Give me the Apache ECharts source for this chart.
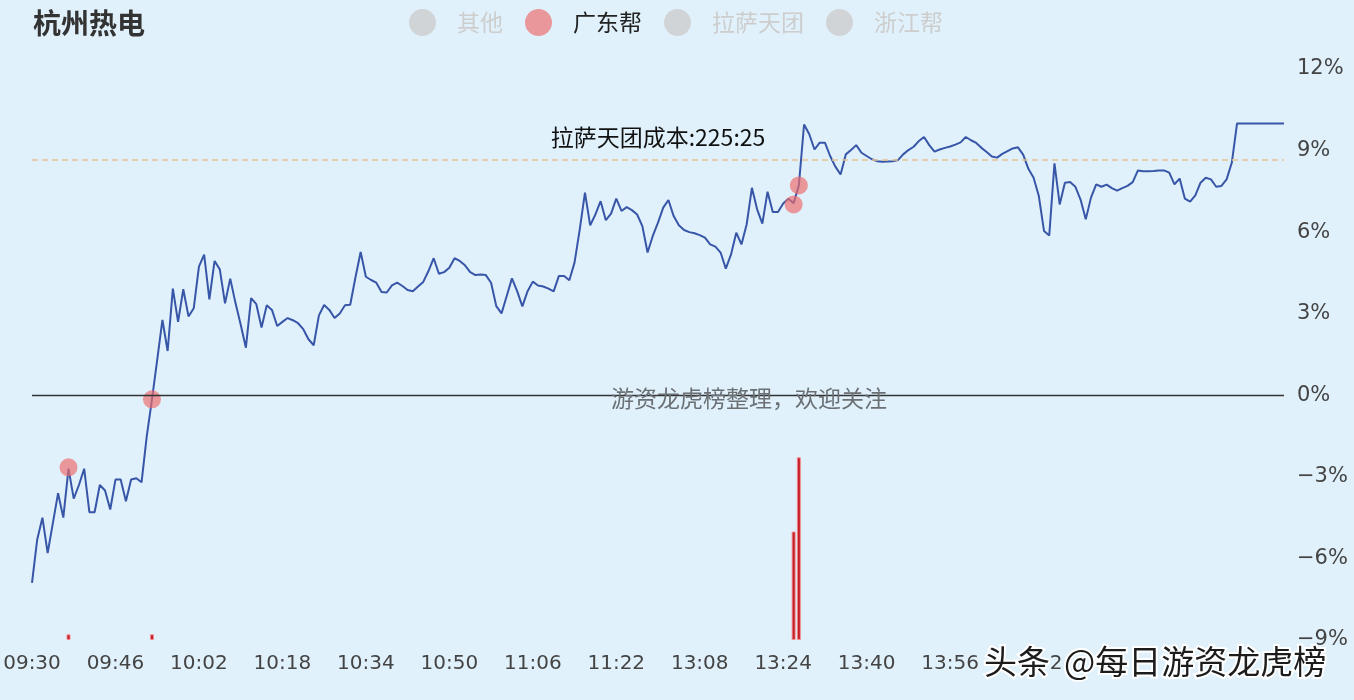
<!DOCTYPE html>
<html>
<head>
<meta charset="utf-8">
<title>杭州热电</title>
<script src="https://cdn.jsdelivr.net/npm/echarts@6/dist/echarts.min.js"></script>
<style>
  html, body { margin: 0; padding: 0; background: #e0f1fb; }
  #chart { width: 1354px; height: 700px; }
</style>
</head>
<body>
<div id="chart"></div>
<script>
// 分时涨幅 (%)，每分钟一个点，09:30-11:30 / 13:01-15:00
const pctValues = [
  -6.9, -5.3, -4.5, -5.8, -4.7, -3.6, -4.5, -2.7, -3.8, -3.3,
  -2.7, -4.3, -4.3, -3.3, -3.5, -4.2, -3.1, -3.1, -3.9, -3.1,
  -3.05, -3.2, -1.5, -0.15, 1.3, 2.77, 1.63, 3.92, 2.7, 3.9,
  2.9, 3.2, 4.73, 5.17, 3.53, 4.94, 4.63, 3.38, 4.29, 3.4,
  2.6, 1.75, 3.57, 3.35, 2.49, 3.31, 3.14, 2.55, 2.7, 2.84,
  2.76, 2.65, 2.43, 2.06, 1.84, 2.94, 3.32, 3.14, 2.84, 3.01,
  3.31, 3.33, 4.33, 5.27, 4.36, 4.24, 4.14, 3.8, 3.78, 4.04,
  4.14, 4.02, 3.87, 3.83, 4.0, 4.17, 4.57, 5.04, 4.47, 4.53,
  4.69, 5.04, 4.94, 4.78, 4.53, 4.42, 4.44, 4.42, 4.14, 3.28,
  3.01, 3.65, 4.3, 3.83, 3.27, 3.83, 4.18, 4.04, 4.0, 3.92,
  3.82, 4.39, 4.39, 4.23, 4.88, 6.1, 7.45, 6.25, 6.65, 7.14,
  6.44, 6.68, 7.23, 6.78, 6.92, 6.81, 6.65, 6.22, 5.25, 5.86,
  6.35, 6.9, 7.18, 6.59, 6.25, 6.08, 6.0, 5.96, 5.89, 5.8,
  5.55, 5.47, 5.25, 4.66, 5.18, 5.98, 5.55, 6.29, 7.63, 6.84,
  6.31, 7.49, 6.74, 6.74, 7.05, 7.23, 7.06, 7.72, 9.96, 9.6,
  9.04, 9.29, 9.29, 8.8, 8.41, 8.12, 8.86, 9.02, 9.2, 8.92,
  8.8, 8.68, 8.61, 8.59, 8.6, 8.61, 8.65, 8.86, 9.02, 9.14,
  9.35, 9.5, 9.2, 8.96, 9.04, 9.1, 9.15, 9.22, 9.3, 9.5,
  9.38, 9.28, 9.1, 8.95, 8.78, 8.74, 8.88, 8.98, 9.08, 9.12,
  8.85, 8.33, 8.0, 7.33, 6.04, 5.88, 8.53, 7.02, 7.82, 7.84,
  7.67, 7.2, 6.47, 7.27, 7.76, 7.67, 7.75, 7.62, 7.53, 7.62,
  7.7, 7.84, 8.27, 8.24, 8.24, 8.25, 8.27, 8.27, 8.19, 7.76,
  7.97, 7.23, 7.12, 7.35, 7.82, 8.0, 7.94, 7.67, 7.7, 7.94,
  8.56, 10.0, 10.0, 10.0, 10.0, 10.0, 10.0, 10.0, 10.0, 10.0,
  10.0
];

// 广东帮 买入点
const gdIndex = [7, 23, 146, 147];
const gdPct = [-2.65, -0.15, 7.02, 7.72];
const gdAmount = [0.1, 0.1, 1.9, 3.2];

const legendNames = ["其他", "广东帮", "拉萨天团", "浙江帮"];
const yTickLabels = { "-9": "−9%", "-6": "−6%", "-3": "−3%", "0": "0%", "3": "3%", "6": "6%", "9": "9%", "12": "12%" };
const costValue = 8.65;
const costLabel = "拉萨天团成本:225:25";

const pad = (n) => (n < 10 ? "0" + n : "" + n);
const times = [];
for (let m = 9 * 60 + 30; m <= 11 * 60 + 30; m++) times.push(pad(Math.floor(m / 60)) + ":" + pad(m % 60));
for (let m = 13 * 60 + 1; m <= 15 * 60; m++) times.push(pad(Math.floor(m / 60)) + ":" + pad(m % 60));

const barData = times.map(() => "-");
gdIndex.forEach((k, j) => { barData[k] = gdAmount[j]; });
const scatterData = gdIndex.map((k, j) => [k, gdPct[j]]);

const BG = "#e0f1fb";
const FONT = "'Noto Sans CJK SC', 'DejaVu Sans', sans-serif";
const NUM_FONT = "'DejaVu Sans', sans-serif";

const chart = echarts.init(document.getElementById("chart"));
chart.setOption({
  backgroundColor: BG,
  animation: false,
  textStyle: { fontFamily: FONT },
  title: {
    text: "杭州热电", left: 28, top: 4,
    textStyle: { fontSize: 28, fontWeight: "bold", color: "#333", fontFamily: FONT }
  },
  legend: {
    data: legendNames, icon: "circle", left: 404, top: 4,
    itemWidth: 27, itemHeight: 27, itemGap: 22,
    selected: { "其他": false, "拉萨天团": false, "浙江帮": false },
    inactiveColor: "#cdcdcd",
    textStyle: { fontSize: 23, color: "#222", padding: [0, 0, 0, 16], fontFamily: FONT }
  },
  grid: { left: 32, right: 70, top: 69, bottom: 60 },
  xAxis: {
    type: "category", data: times, boundaryGap: false,
    axisLine: { show: false }, axisTick: { show: false }, splitLine: { show: false },
    axisLabel: { interval: 15, fontSize: 20, color: "#444", margin: 14, fontFamily: NUM_FONT }
  },
  yAxis: [
    {
      type: "value", position: "right", min: -9, max: 12, interval: 3,
      axisLine: { show: false }, axisTick: { show: false }, splitLine: { show: false },
      axisLabel: { fontSize: 21, color: "#444", margin: 13, fontFamily: NUM_FONT, formatter: (v) => yTickLabels[String(v)] }
    },
    { type: "value", min: 0, max: 10, show: false, splitLine: { show: false } }
  ],
  series: [
    {
      name: "杭州热电", type: "line", data: pctValues, showSymbol: false, smooth: false,
      lineStyle: { color: "#3856a8", width: 2 }, z: 3,
      markLine: {
        silent: true, symbol: "none",
        data: [
          { yAxis: 0, lineStyle: { color: "#333", width: 1.3, type: "solid" }, label: { show: false } },
          {
            yAxis: costValue, lineStyle: { color: "#e3c48e", width: 1.5, type: [6, 4] },
            label: { show: true, position: "middle", distance: 11, formatter: costLabel, fontSize: 23, color: "#111", fontFamily: FONT }
          }
        ]
      }
    },
    {
      name: "广东帮", type: "scatter", data: scatterData, symbolSize: 18, z: 4,
      itemStyle: { color: "rgba(238,108,108,0.85)" }
    },
    {
      name: "广东帮", type: "bar", yAxisIndex: 1, data: barData, barWidth: 4, z: 2,
      itemStyle: { color: "#c41e28", borderColor: "rgba(246,140,140,0.9)", borderWidth: 1 }
    },
    { name: "其他", type: "scatter", data: [], itemStyle: { color: "#cdcdcd" } },
    { name: "拉萨天团", type: "scatter", data: [], itemStyle: { color: "#cdcdcd" } },
    { name: "浙江帮", type: "scatter", data: [], itemStyle: { color: "#cdcdcd" } }
  ],
  graphic: [
    {
      type: "text", left: 611, top: 387, silent: true, z: 100,
      style: { text: "游资龙虎榜整理，欢迎关注", fontSize: 23, fill: "#6b7075", fontFamily: FONT }
    },
    {
      type: "rect", left: 982, top: 647, silent: true, z: 99,
      shape: { width: 66, height: 40 }, style: { fill: BG }
    },
    {
      type: "rect", left: 1061, top: 647, silent: true, z: 99,
      shape: { width: 293, height: 40 }, style: { fill: BG }
    },
    {
      type: "text", left: 982, top: 643, silent: true, z: 100,
      style: { text: "头条", fontSize: 33, fill: "#1c1c1c", stroke: "#ffffff", lineWidth: 4, fontFamily: FONT }
    },
    {
      type: "text", left: 1062, top: 643, silent: true, z: 100,
      style: { text: "@每日游资龙虎榜", fontSize: 33, fill: "#1c1c1c", stroke: "#ffffff", lineWidth: 4, fontFamily: FONT }
    }
  ]
});
window.addEventListener("resize", () => chart.resize());
</script>
</body>
</html>
